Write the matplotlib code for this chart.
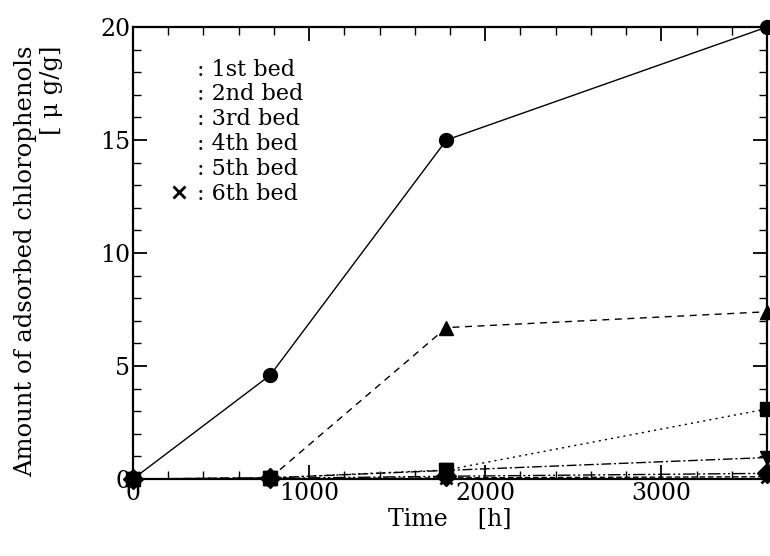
import matplotlib
matplotlib.use("Agg")
import matplotlib.pyplot as plt
from matplotlib.lines import Line2D
from matplotlib.ticker import MultipleLocator

plt.rcParams["font.family"] = ["DejaVu Serif"]
plt.rcParams["mathtext.fontset"] = "dejavuserif"

# elapsed time (h) and adsorbed amount per bed (ug/g)
time_h = [0, 780, 1780, 3600]
bed1 = [0.0, 4.6, 15.0, 20.0]
bed2 = [0.0, 0.05, 6.7, 7.4]
bed3 = [0.0, 0.05, 0.4, 3.1]
bed4 = [0.0, 0.05, 0.38, 0.95]
bed5 = [0.0, 0.03, 0.12, 0.25]
bed6 = [0.0, 0.0, 0.05, 0.1]
labels = [": 1st bed", ": 2nd bed", ": 3rd bed", ": 4th bed", ": 5th bed", ": 6th bed"]

fig = plt.figure(figsize=(7.7, 5.56), dpi=100)
ax = fig.add_axes([0.1727, 0.1385, 0.8234, 0.8129])

kw = dict(color="black", lw=1.0, ms=10, clip_on=False, zorder=3)
ax.plot(time_h, bed1, marker="o", ls="-", **kw)
ax.plot(time_h, bed2, marker="^", ls=(0, (5, 4)), **kw)
ax.plot(time_h, bed3, marker="s", ls=(0, (1.5, 3)), **kw)
ax.plot(time_h, bed4, marker="v", ls=(0, (7, 2, 1.5, 2)), **kw)
ax.plot(time_h, bed5, marker="D", ls=(0, (9, 2, 1.5, 2, 1.5, 2)), **kw)
ax.plot(time_h, bed6, marker="x", ls=(0, (4, 2)), mew=2, **dict(kw, ms=8))

ax.set_xlim(0, 3600)
ax.set_ylim(0, 20)
ax.xaxis.set_major_locator(MultipleLocator(1000))
ax.xaxis.set_minor_locator(MultipleLocator(200))
ax.yaxis.set_major_locator(MultipleLocator(5))
ax.yaxis.set_minor_locator(MultipleLocator(1))
ax.tick_params(which="both", direction="in", top=True, right=True, labelsize=17, pad=2)
ax.tick_params(which="major", length=10, width=1.3)
ax.tick_params(which="minor", length=6, width=1.0)
for s in ax.spines.values():
    s.set_linewidth(1.6)

# legend: only the 6th bed shows its marker
handles = [Line2D([], [], ls="none", marker="none") for _ in range(5)]
handles.append(Line2D([], [], ls="none", marker="x", color="black", ms=8, mew=2))
ax.legend(handles, labels, loc="upper left", bbox_to_anchor=(0.045, 0.95), frameon=False,
          fontsize=16, handlelength=0.8, handletextpad=0.4, labelspacing=0.13,
          borderaxespad=0)

ax.set_xlabel("Time    [h]", fontsize=17, labelpad=2)
fig.text(0.018, 0.53, "Amount of adsorbed chlorophenols\n[ \u03bc g/g]", rotation=90,
         fontsize=17.5, ha="left", va="center", multialignment="right", linespacing=1.15)

fig.savefig("out.png", dpi=100)
